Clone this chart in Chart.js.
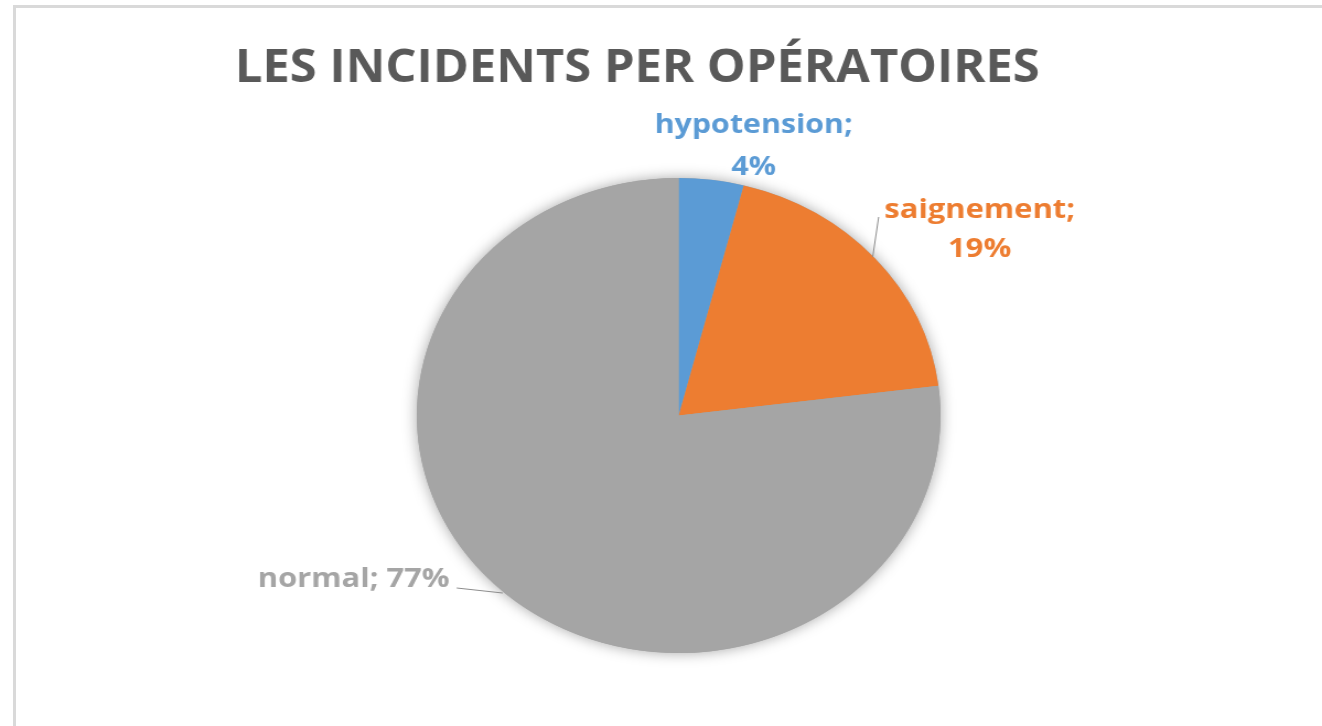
<!DOCTYPE html>
<html>
<head>
<meta charset="utf-8">
<script src="https://cdn.jsdelivr.net/npm/chart.js@4/dist/chart.umd.min.js"></script>
<style>
  html, body { margin: 0; padding: 0; background: #fff; overflow: hidden; }
  #frame {
    position: absolute; left: 13px; top: 5px; width: 1400px; height: 800px;
    border-left: 3px solid #d9d9d9; border-top: 3px solid #d9d9d9;
  }
  /* the original picture is stretched sideways, so the chart is too */
  #wrap {
    position: absolute; left: 0; top: 0; width: 1199px; height: 726px;
    transform: scaleX(1.1026); transform-origin: 0 0;
  }
</style>
</head>
<body>
<div id="frame"></div>
<div id="wrap"><canvas id="pieChart"></canvas></div>
<script>
const titleText = 'LES INCIDENTS PER OPÉRATOIRES';
const categories = ['hypotension', 'saignement', 'normal'];
const percentValues = [4, 19, 77];
const sliceColors = ['#5B9BD5', '#ED7D31', '#A5A5A5'];

const FONT = '"Open Sans", "DejaVu Sans", sans-serif';

// label placement, relative to the pie centre
const labelSpots = [
  { dx: 68, lines: [-282.5, -240.5], width: 179.6, align: 'center', size: 27 },
  { dx: 273, lines: [-197.5, -158.5], width: 173, align: 'center', size: 27 },
  { dx: -207.7, lines: [171], width: 174, align: 'right', size: 27 },
];

function fitText(ctx, text, x, y, sx, align) {
  ctx.save();
  ctx.translate(x, y);
  ctx.scale(sx, 1);
  ctx.textAlign = align;
  ctx.fillText(text, 0, 0);
  ctx.restore();
}

const pieDecor = {
  id: 'pieDecor',
  beforeDatasetsDraw(chart) {
    const arc = chart.getDatasetMeta(0).data[0];
    const ctx = chart.ctx;
    ctx.save();
    ctx.beginPath();
    ctx.arc(arc.x, arc.y, arc.outerRadius, 0, Math.PI * 2);
    ctx.shadowColor = 'rgba(0,0,0,0.35)';
    ctx.shadowBlur = 14;
    ctx.fillStyle = sliceColors[2];
    ctx.fill();
    ctx.restore();
  },
  afterDraw(chart) {
    const ctx = chart.ctx;
    const arc = chart.getDatasetMeta(0).data[0];
    const cx = arc.x, cy = arc.y;

    // title
    ctx.save();
    ctx.font = 'bold 46px ' + FONT;
    ctx.fillStyle = '#595959';
    ctx.textBaseline = 'alphabetic';
    let w = ctx.measureText(titleText).width;
    fitText(ctx, titleText, 578, 82, 730 / w, 'center');

    // leader lines
    ctx.strokeStyle = '#8c8c8c';
    ctx.lineWidth = 1;
    ctx.beginPath();
    ctx.moveTo(cx + 181.4, cy - 198.5);
    ctx.lineTo(cx + 176, cy - 158.5);
    ctx.moveTo(cx - 201.3, cy + 172.5);
    ctx.lineTo(cx - 159.6, cy + 177.5);
    ctx.stroke();

    // data labels
    categories.forEach((name, i) => {
      const spot = labelSpots[i];
      const texts = spot.lines.length > 1 ?
        [name + ';', percentValues[i] + '%'] :
        [name + '; ' + percentValues[i] + '%'];
      ctx.font = 'bold ' + spot.size + 'px ' + FONT;
      ctx.fillStyle = sliceColors[i];
      const sx = spot.width / ctx.measureText(texts[0]).width;
      texts.forEach((t, k) => {
        fitText(ctx, t, cx + spot.dx, cy + spot.lines[k], sx, spot.align);
      });
    });
    ctx.restore();
  },
};

new Chart(document.getElementById('pieChart'), {
  type: 'pie',
  data: {
    labels: categories,
    datasets: [{
      data: percentValues,
      backgroundColor: sliceColors,
      borderWidth: 0,
    }],
  },
  options: {
    responsive: true,
    maintainAspectRatio: false,
    animation: false,
    layout: { padding: { top: 178, bottom: 73, left: 378, right: 346 } },
    plugins: {
      legend: { display: false },
      tooltip: { enabled: false },
      title: { display: false },
    },
  },
  plugins: [pieDecor],
});
</script>
</body>
</html>
